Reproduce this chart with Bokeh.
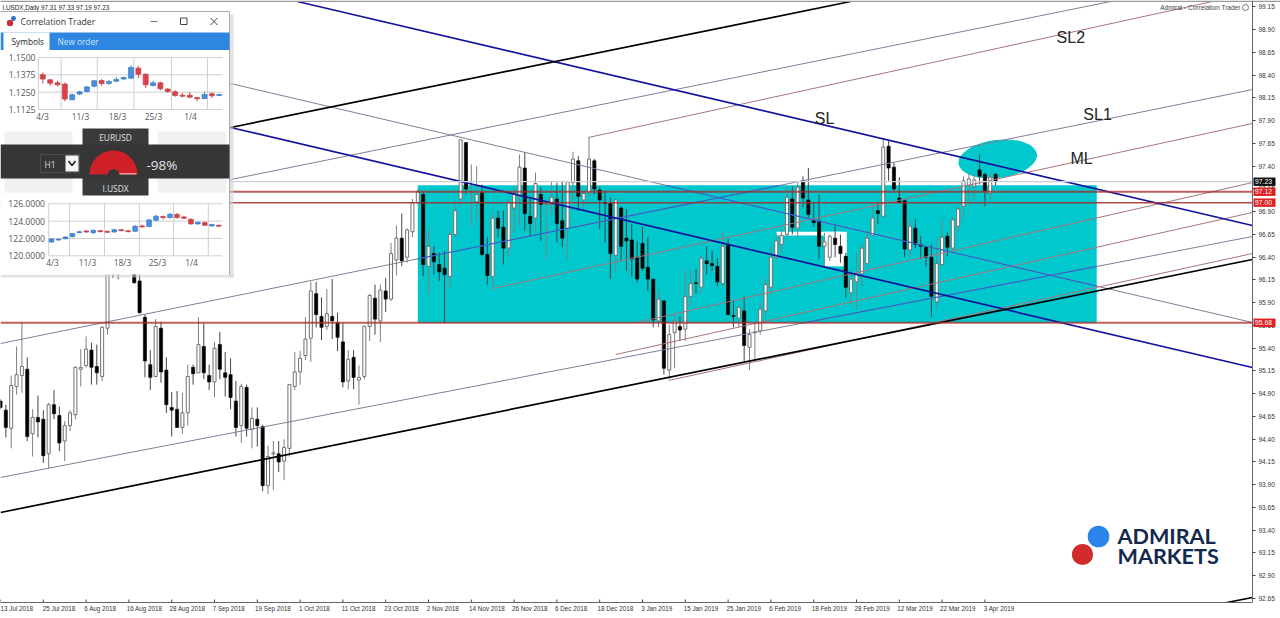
from bokeh.plotting import figure
from bokeh.models import Range1d, FixedTicker, LinearAxis
from bokeh.core.properties import value
from bokeh.embed import file_html
from bokeh.resources import INLINE
import numpy as np

# ---------------------------------------------------------------- data
OHLC = [
(94.82,94.84,94.73,94.75),(94.72,94.78,94.42,94.53),(94.52,95.10,94.30,94.99),(94.98,95.42,94.89,95.11),
(95.10,95.68,94.91,95.20),(95.17,95.30,94.38,94.43),(94.46,94.73,94.21,94.64),(94.64,94.88,94.42,94.59),
(94.62,94.72,94.14,94.22),(94.24,94.80,94.08,94.78),(94.78,94.94,94.62,94.68),(94.66,94.76,94.27,94.36),
(94.38,94.60,94.16,94.55),(94.55,94.72,94.49,94.69),(94.67,95.20,94.62,95.19),(95.17,95.39,94.98,95.19),
(95.21,95.53,95.19,95.39),(95.38,95.46,95.00,95.19),(95.20,95.44,95.00,95.13),(95.09,95.64,95.04,95.63),
(95.62,96.70,95.55,96.50),(97.00,97.20,96.17,96.50),(96.90,97.10,96.16,96.60),(96.90,97.20,96.40,96.70),
(96.80,97.10,96.35,96.60),(96.60,96.90,96.11,96.12),(96.14,96.30,95.78,95.79),(95.74,95.77,95.08,95.26),
(95.22,95.38,94.94,95.08),(95.09,95.72,95.08,95.64),(95.62,95.69,95.02,95.14),(95.16,95.30,94.69,94.78),
(94.75,94.92,94.43,94.72),(94.73,94.93,94.53,94.53),(94.53,94.91,94.46,94.69),(94.69,95.22,94.55,95.09),
(95.19,95.22,95.00,95.12),(95.13,95.74,95.13,95.44),(95.42,95.67,95.06,95.13),(95.10,95.22,94.94,95.03),
(95.03,95.47,94.86,95.40),(95.44,95.58,95.06,95.17),(95.13,95.36,94.87,95.08),(95.11,95.29,94.73,94.86),
(94.82,95.04,94.43,94.53),(94.55,95.01,94.36,94.98),(94.97,95.00,94.43,94.52),(94.51,94.75,94.30,94.63),
(94.62,94.75,94.32,94.55),(94.54,94.56,93.83,93.89),(93.89,94.33,93.80,94.21),(94.24,94.38,93.84,94.25),
(94.24,94.38,94.04,94.15),(94.16,94.40,93.95,94.31),(94.30,95.00,94.21,95.00),(94.98,95.36,94.94,95.14),
(95.14,95.37,95.00,95.29),(95.32,95.74,95.27,95.50),(95.51,96.13,95.25,96.03),(96.00,96.13,95.63,95.77),
(95.75,95.96,95.49,95.63),(95.64,96.05,95.60,95.78),(95.75,96.16,95.50,95.70),(95.68,95.79,95.37,95.52),
(95.47,95.68,94.97,95.03),(95.04,95.38,94.95,95.28),(95.30,95.38,94.95,95.08),(95.05,95.21,94.78,95.08),
(95.09,95.65,95.06,95.64),(95.64,96.00,95.48,95.98),(95.95,96.10,95.55,95.72),(95.70,96.10,95.47,96.04),
(96.03,96.17,95.80,95.94),(95.94,96.56,95.92,96.44),(96.37,96.75,96.20,96.61),(96.61,96.88,96.30,96.36),
(96.40,96.72,96.34,96.70),(96.68,97.04,96.62,97.00),(97.00,97.15,96.99,97.12),(97.09,97.12,96.19,96.32),
(96.30,96.71,95.99,96.52),(96.44,96.52,96.21,96.35),(96.32,96.45,96.14,96.24),(96.28,96.47,95.68,96.21),
(96.19,96.69,96.07,96.65),(96.65,97.02,96.62,96.91),(97.04,97.69,96.98,97.69),(97.66,97.66,97.09,97.15),
(97.11,97.42,96.74,97.12),(97.01,97.40,96.80,97.09),(97.11,97.20,96.41,96.43),(96.43,96.62,96.10,96.20),
(96.19,96.91,96.05,96.83),(96.83,96.91,96.62,96.72),(96.73,96.91,96.32,96.50),(96.50,97.04,96.41,97.00),
(96.94,97.17,96.67,97.10),(97.07,97.53,96.74,97.39),(97.38,97.55,96.69,96.88),(96.85,97.04,96.63,96.77),
(96.83,97.33,96.69,97.21),(97.09,97.17,96.58,96.98),(96.98,97.02,96.38,96.99),(96.98,97.24,96.87,97.06),
(97.04,97.22,96.56,96.77),(96.80,97.24,96.51,96.61),(96.72,97.24,96.36,97.23),(97.22,97.56,97.00,97.48),
(97.46,97.51,96.91,97.07),(97.03,97.13,96.91,97.10),(97.11,97.72,97.07,97.48),(97.46,97.48,97.09,97.15),
(97.14,97.17,96.71,97.03),(97.00,97.13,96.56,96.99),(96.99,97.06,96.16,96.44),(96.42,97.04,96.25,97.03),
(96.94,96.96,96.36,96.52),(96.61,96.93,96.25,96.58),(96.59,96.76,96.19,96.38),(96.40,96.58,96.12,96.16),
(96.55,96.73,96.25,96.28),(96.29,96.62,96.03,96.16),(96.16,96.16,95.63,95.71),(95.70,96.04,95.63,95.94),
(95.92,95.93,95.11,95.18),(95.16,95.66,95.06,95.55),(95.57,95.77,95.18,95.70),(95.64,95.75,95.48,95.60),
(95.61,96.27,95.48,95.97),(95.97,96.25,95.86,96.11),(96.12,96.27,96.00,96.11),(96.07,96.41,96.01,96.39),
(96.36,96.52,96.21,96.33),(96.33,96.47,96.25,96.31),(96.30,96.39,96.08,96.13),(96.11,96.69,96.08,96.52),
(96.54,96.60,95.76,95.77),(95.76,95.92,95.63,95.75),(95.73,95.86,95.63,95.85),(95.81,95.97,95.26,95.43),
(95.41,95.61,95.16,95.55),(95.57,95.68,95.28,95.58),(95.59,95.90,95.55,95.83),(95.81,96.18,95.74,96.10),
(96.07,96.51,95.99,96.40),(96.40,96.67,96.38,96.58),(96.54,96.71,96.45,96.64),(96.65,97.18,96.62,97.06),
(97.04,97.18,96.65,96.73),(96.72,97.22,96.62,97.17),(97.24,97.29,96.95,97.05),(97.03,97.38,96.82,96.87),
(96.81,97.00,96.74,96.78),(96.80,97.09,96.38,96.52),(96.52,96.67,96.29,96.57),(96.40,96.65,96.36,96.63),
(96.61,96.77,96.40,96.54),(96.52,96.65,96.34,96.44),(96.41,96.45,95.96,96.07),(96.01,96.25,95.88,96.16),
(96.13,96.45,95.83,96.21),(96.22,96.54,96.08,96.50),(96.33,96.69,96.29,96.61),(96.64,97.00,96.63,96.83),
(96.91,97.00,96.76,96.88),(96.85,97.70,96.84,97.61),(97.62,97.69,97.24,97.38),(97.39,97.44,97.13,97.15),
(97.05,97.28,97.00,97.00),(97.02,97.04,96.40,96.49),(96.48,96.80,96.41,96.74),(96.72,96.82,96.50,96.54),
(96.54,96.63,96.38,96.52),(96.51,96.52,96.30,96.40),(96.40,96.54,95.74,95.97),(95.91,96.62,95.85,96.33),
(96.32,96.81,96.32,96.62),(96.63,96.67,96.41,96.51),(96.50,96.84,96.46,96.81),(96.74,96.96,96.68,96.93),
(96.96,97.29,96.82,97.24),(97.19,97.33,97.01,97.26),(97.18,97.31,97.02,97.25),(97.36,97.53,97.20,97.29),
(97.31,97.33,96.96,97.13),(97.10,97.33,97.03,97.28),(97.31,97.33,97.19,97.23),
]
date_labels = ["13 Jul 2018","25 Jul 2018","6 Aug 2018","16 Aug 2018","28 Aug 2018","7 Sep 2018","19 Sep 2018",
 "1 Oct 2018","11 Oct 2018","23 Oct 2018","2 Nov 2018","14 Nov 2018","26 Nov 2018","6 Dec 2018","18 Dec 2018",
 "3 Jan 2019","15 Jan 2019","25 Jan 2019","6 Feb 2019","18 Feb 2019","28 Feb 2019","12 Mar 2019","22 Mar 2019","3 Apr 2019"]
price_ticks = [99.15,98.90,98.65,98.40,98.15,97.90,97.65,97.40,97.15,96.90,96.65,96.40,96.15,95.90,95.65,95.40,
 95.15,94.90,94.65,94.40,94.15,93.90,93.65,93.40,93.15,92.90,92.65]

# trend lines: (bar0, price0, bar1, price1)
black_lines = [(0,93.595,234,96.375),(43,97.826,158.9,99.21),(229.2,92.606,234,92.661)]
navy_lines  = [(55.5,99.21,234,96.749),(43,97.826,234,95.188)]
gray_lines  = [(43,98.309,234,95.683),(43,97.254,207.5,99.21),(0,95.452,234,98.243),(0,93.98,234,96.628)]
brown_lines = [(109.9,97.716,226.5,99.21),(92,96.056,234,97.87),(119,95.683,234,97.221),(115,95.331,234,96.892),(124.9,95.046,234,96.441)]
hlines = [(97.12,1.8,0.75),(97.00,1.5,0.85),(95.68,2.0,0.75)]
tags = [(97.23,"97.23","#111111"),(97.12,"97.12","#e02020"),(97.00,"97.00","#e02020"),(95.68,"95.68","#e02020")]
zone = (78,204.9,95.68,97.19)
white_rects = [(145,157,96.68,96.64),(154,158.2,96.68,96.30)]
labels = [("SL",152.2,97.93),("SL2",197.4,98.82),("SL1",202.4,97.97),("ML",200,97.49)]

eur = [(1.1375,1.1392,1.1312,1.1344),(1.1339,1.1344,1.1296,1.1315),(1.1317,1.1332,1.1291,1.1303),(1.1308,1.1320,1.1183,1.1200),
(1.1195,1.1240,1.1192,1.1231),(1.1236,1.1260,1.1228,1.1252),(1.1255,1.1296,1.1248,1.1288),(1.1293,1.1337,1.1284,1.1332),
(1.1334,1.1344,1.1296,1.1312),(1.1312,1.1337,1.1303,1.1327),(1.1329,1.1361,1.1322,1.1341),(1.1344,1.1361,1.1341,1.1356),
(1.1351,1.1447,1.1344,1.1428),(1.1423,1.1440,1.1351,1.1380),(1.1380,1.1385,1.1279,1.1303),(1.1298,1.1332,1.1291,1.1317),
(1.1317,1.1325,1.1264,1.1274),(1.1272,1.1279,1.1245,1.1255),(1.1252,1.1264,1.1216,1.1226),(1.1228,1.1245,1.1212,1.1221),
(1.1228,1.1250,1.1207,1.1214),(1.1211,1.1216,1.1187,1.1202),(1.1204,1.1255,1.1199,1.1233),(1.1238,1.1250,1.1207,1.1224),
(1.1226,1.1238,1.1221,1.1233)]
usdx = [(121.59,122.0,121.5,121.94),(121.82,122.0,121.75,121.9),(121.97,122.25,121.9,122.17),(122.21,122.65,122.15,122.56),
(122.67,122.85,122.6,122.79),(122.87,122.95,122.65,122.75),(122.67,123.05,122.5,122.94),(122.9,123.0,122.7,122.79),
(122.83,122.9,122.65,122.71),(122.75,123.1,122.65,123.02),(123.02,123.1,122.85,122.9),(122.9,123.0,122.7,122.79),
(122.83,123.55,122.75,123.41),(123.45,123.6,123.25,123.33),(123.37,124.25,123.3,124.14),(124.1,124.75,124.05,124.57),
(124.53,124.65,124.2,124.41),(124.41,124.95,124.3,124.8),(124.76,124.95,124.3,124.41),(124.49,124.6,124.25,124.34),
(124.22,124.3,123.6,123.68),(123.68,123.95,123.6,123.87),(123.83,123.95,123.45,123.52),(123.45,123.7,123.35,123.6),
(123.52,123.6,123.35,123.41)]
eur_ticks = [1.15,1.1375,1.125,1.1125]
usdx_ticks = [126.0,124.0,122.0,120.0]
eur_grid_bars = [-0.6,2.5,7.4,12.4,17.5,22.4]
usdx_grid_bars = [-0.4,2.6,7.6,12.6,17.5,22.5]
date_text = ["4/3","11/3","18/3","25/3","1/4"]

# ---------------------------------------------------------------- geometry
PXBAR = 5.35
CW, FH, AX = 1280, 602, 1252
def yp(y): return 99.2214 - y/91.0
AXB = AX/PXBAR

p = figure(width=1280, height=618, frame_width=CW, frame_height=FH, output_backend="svg", toolbar_location=None,
           x_range=Range1d(0, CW/PXBAR), y_range=Range1d(yp(FH), yp(0)), y_axis_location=None,
           min_border_left=0, min_border_right=0, min_border_top=0, min_border_bottom=16,
           outline_line_color=None, background_fill_color="white", border_fill_color="white")
p.grid.visible = False

# Bokeh centres tick labels on their tick; the reference starts each label at the tick,
# so the labels ride on an axis of their own and the tick marks are drawn as segments.
tick_bars = [8*k for k in range(len(date_labels))]
label_bars = [b + len(s)*2.85/2/PXBAR for b, s in zip(tick_bars, date_labels)]
xa = p.xaxis[0]
xa.bounds = (0, AXB)
xa.ticker = FixedTicker(ticks=label_bars)
xa.major_label_overrides = dict(zip(label_bars, date_labels))
xa.major_label_text_font = "Liberation Sans"; xa.major_label_text_font_size = "6.3px"; xa.major_label_text_color = "#333333"
xa.major_label_standoff = 2; xa.major_tick_in = 0; xa.major_tick_out = 0; xa.minor_tick_line_color = None
xa.major_tick_line_color = None; xa.axis_line_color = "#666666"
# tick marks hang just inside the frame's lower edge region; frame ends at the axis line
p.segment(tick_bars,[yp(FH-3)]*len(tick_bars),tick_bars,[yp(FH)]*len(tick_bars),line_color="#444444",line_width=1)

ya = LinearAxis(fixed_location=AXB, ticker=FixedTicker(ticks=price_ticks))
ya.major_label_overrides = {t: "%.2f" % t for t in price_ticks}
ya.major_label_text_font = "Liberation Sans"; ya.major_label_text_font_size = "6.5px"; ya.major_label_text_color = "#333333"
ya.major_label_standoff = 3; ya.major_tick_in = 0; ya.major_tick_out = 3; ya.minor_tick_line_color = None
ya.axis_line_color = "#666666"; ya.major_tick_line_color = "#444444"
p.add_layout(ya, "right")

# thin rule along the picture's lower edge
rule = LinearAxis(fixed_location=yp(616.8), ticker=FixedTicker(ticks=[]), major_tick_line_color=None, minor_tick_line_color=None,
                  major_label_text_color=None, axis_line_color="#8a8a8a", axis_line_width=1.2, bounds=(11, CW/PXBAR))
p.add_layout(rule, "below")

# pixel-like range for window chrome
p.extra_x_ranges["px"] = Range1d(0, CW)
p.extra_y_ranges["py"] = Range1d(FH, 0)

def txt(x, y, s, size, color="#222222", align="left", font="Liberation Sans", style="normal", **kw):
    p.text([x],[y],text=[s],text_font=value(font),text_font_size=value(f"{size}px"),text_color=color,text_align=align,
           text_baseline="middle",text_font_style=style,**kw)
def px_txt(x, y, s, size, color="#333333", align="left", font="Open Sans", style="normal"):
    txt(x,y,s,size,color,align,font,style,x_range_name="px",y_range_name="py")
def box(l,r,t,b,c,alpha=1.0):
    p.quad(left=[l],right=[r],top=[t],bottom=[b],fill_color=c,line_color=None,fill_alpha=alpha,x_range_name="px",y_range_name="py")

# zone, ellipse, white patches
bx0,bx1,by0,by1 = zone
p.quad(left=[bx0],right=[bx1],bottom=[by0],top=[by1],fill_color="#00c8cc",line_color=None)
p.ellipse([186.4],[97.48],width=[79],height=[38],angle=[0.12],width_units="screen",height_units="screen",fill_color="#00c8cc",line_color=None)
for l,r,t,b in white_rects:
    p.quad(left=[l],right=[r],top=[t],bottom=[b],fill_color="white",line_color=None)

# candles
arr = np.array(OHLC); o,h,l,c = arr.T; x = np.arange(len(o))
up = c >= o
p.segment(x[up],h[up],x[up],l[up],line_color="#808080",line_width=1)
p.segment(x[~up],h[~up],x[~up],l[~up],line_color="#444444",line_width=1)
p.vbar(x[up],0.56,np.minimum(o,c)[up],np.maximum(o,c)[up],fill_color="white",line_color="#707070",line_width=1)
p.vbar(x[~up],0.6,np.maximum(o,c)[~up],np.minimum(o,c)[~up],fill_color="black",line_color="black",line_width=0.6)

# trend lines
def seg(lst,color,w,alpha=1.0):
    p.segment([a[0] for a in lst],[a[1] for a in lst],[a[2] for a in lst],[a[3] for a in lst],line_color=color,line_width=w,line_alpha=alpha)
seg(gray_lines,"#807d98",1)
seg(brown_lines,"#a8747e",1)
inside = []
for a in gray_lines:
    xs = np.array([a[0],a[2]]); ys = np.array([a[1],a[3]])
    m = (ys[1]-ys[0])/(xs[1]-xs[0])
    xa0, xa1 = bx0, bx1
    y0, y1 = ys[0]+m*(xa0-xs[0]), ys[0]+m*(xa1-xs[0])
    if y0 > by1: xa0 = xs[0]+(by1-ys[0])/m; y0 = by1
    if y0 < by0: xa0 = xs[0]+(by0-ys[0])/m; y0 = by0
    if y1 > by1: xa1 = xs[0]+(by1-ys[0])/m; y1 = by1
    if y1 < by0: xa1 = xs[0]+(by0-ys[0])/m; y1 = by0
    if xa1 > xa0: inside.append((xa0,y0,xa1,y1))
seg(inside,"#2c5fd6",1)
seg(navy_lines,"#14149e",1.7)
seg(black_lines,"#000000",1.7)

# horizontal levels
p.segment([0],[97.23],[AXB],[97.23],line_color="#c8d2da",line_width=1.2)
for lv,w,al in hlines:
    p.segment([0],[lv],[AXB],[lv],line_color="#a52a2a",line_width=w,line_alpha=al)

# annotations on chart
for s,bx,py in labels:
    txt(bx,py,s,16,"#222222")

# header
box(0,CW,0,1.5,"#9a9a9a")
px_txt(2,6.5,"I.USDX,Daily  97.31 97.33 97.19 97.23",6.3,"#222222",font="Liberation Sans")
px_txt(1240,6.5,"Admiral - Correlation Trader",6.5,"#444444",align="right",font="Liberation Sans")
p.circle([1245],[7],radius=[3],fill_color=None,line_color="#555555",line_width=0.8,x_range_name="px",y_range_name="py")

# logo
p.circle([1098],[536],radius=[10.8],fill_color="#2a84ea",line_color=None,x_range_name="px",y_range_name="py")
p.circle([1082],[554],radius=[10.6],fill_color="#d12b2b",line_color=None,x_range_name="px",y_range_name="py")
px_txt(1117,535,"ADMIRAL",21.6,"#12284c",font="Lato",style="bold")
px_txt(1117,555,"MARKETS",21.6,"#12284c",font="Lato",style="bold")

# ---------------------------------------------------------------- window panel
box(229,233,14,277,"#d0d0d0",0.6); box(0,233,274,277,"#d0d0d0",0.6)
box(0,229,11,274,"#ffffff")
p.segment([0,229],[11,11],[229,229],[11,274],line_color="#aaaaaa",line_width=1,x_range_name="px",y_range_name="py")
p.circle([9.5],[22.5],radius=[3.2],fill_color="#c8303a",line_color=None,x_range_name="px",y_range_name="py")
p.circle([13],[18],radius=[2.4],fill_color="#2a6fc8",line_color=None,x_range_name="px",y_range_name="py")
px_txt(20,21,"Correlation Trader",8.7,"#333333")
p.segment([150],[21],[157],[21],line_color="#777777",line_width=1.2,x_range_name="px",y_range_name="py")
p.quad(left=[180],right=[186.5],top=[17.5],bottom=[24],fill_color=None,line_color="#444444",line_width=1,x_range_name="px",y_range_name="py")
p.segment([210,210],[17.5,24.5],[217,217],[24.5,17.5],line_color="#444444",line_width=1,x_range_name="px",y_range_name="py")
box(0,229,32,49.5,"#2f86e0")
box(3,49,32,50,"#ffffff")
px_txt(11,41,"Symbols",8.3,"#222222")
px_txt(57,41,"New order",8.3,"#cfe4fb")

def mini(name, data, a, b, y_top, price_top, px_per_unit, ticks, fmt, label_x, plot_l, plot_r, plot_b, grid_bars, dlx, dly, upc, dnc, bw):
    p.extra_x_ranges[name+"x"] = Range1d((0-a)/b,(CW-a)/b)
    p.extra_y_ranges[name+"y"] = Range1d(price_top-(FH-y_top)/px_per_unit, price_top+y_top/px_per_unit)
    kw = dict(x_range_name=name+"x", y_range_name=name+"y")
    g = dict(line_color="#cfcfcf", line_width=1)
    lo = price_top-(plot_b-y_top)/px_per_unit
    p.segment([(plot_l-a)/b]*len(ticks),ticks,[(plot_r-a)/b]*len(ticks),ticks,**g,**kw)
    p.segment(grid_bars,[price_top]*len(grid_bars),grid_bars,[lo]*len(grid_bars),**g,**kw)
    for t in ticks:
        p.text([(label_x-a)/b],[t],text=[fmt%t],text_font=value("Open Sans"),text_font_size=value("8.6px"),text_color="#555555",
               text_align="right",text_baseline="middle",**kw)
    d = np.array(data); o,h,l,c = d.T; x = np.arange(len(o)); u = c>=o
    p.segment(x[u],h[u],x[u],l[u],line_color=upc,line_width=1,**kw)
    p.segment(x[~u],h[~u],x[~u],l[~u],line_color=dnc,line_width=1,**kw)
    p.vbar(x[u],bw,o[u],c[u],fill_color=upc,line_color="#2b6fb5",line_width=0.6,**kw)
    p.vbar(x[~u],bw,c[~u],o[~u],fill_color=dnc,line_color="#b83a45",line_width=0.6,**kw)
    for lx,s in zip(dlx,date_text):
        px_txt(lx,dly,s,8.4,"#555555",align="center")

mini("e",eur,42.3,7.35,57,1.15,1386.0,eur_ticks,"%.4f",35,38,222,108.7,eur_grid_bars,[42,80,117,153,190],116,"#4a90e2","#dc3f48",0.68)

# middle band
box(4,72,131,192,"#f1f1f1"); box(157,226,131,192,"#f1f1f1")
box(82,148,128,195,"#3a3a3a")
box(0,229,144,178,"#363636")
px_txt(115,136.5,"EURUSD",8.4,"#e0e0e0",align="center")
px_txt(115,187.5,"I.USDX",8.4,"#e0e0e0",align="center")
p.quad(left=[40],right=[79],top=[154],bottom=[172],fill_color=None,line_color="#4c4c4c",line_width=1,x_range_name="px",y_range_name="py")
px_txt(44,164,"H1",8.4,"#dddddd")
box(65,78,155,171,"#f4f4f4")
p.multi_line([[68,71.5,75]],[[160.5,165,160.5]],line_color="#222222",line_width=1.6,x_range_name="px",y_range_name="py")
p.annular_wedge([113],[174],inner_radius=[5.5],outer_radius=[24],start_angle=[0],end_angle=[np.pi],inner_radius_units="screen",outer_radius_units="screen",
                fill_color="#cf1f28",line_color=None,x_range_name="px",y_range_name="py")
box(119,136,172.5,174,"#e8a0a0")
px_txt(146,164.5,"-98%",13.5,"#e2e2e2")

mini("u",usdx,51,6.97,203.3,126.0,8.67,usdx_ticks,"%.4f",44.5,48,222,255,usdx_grid_bars,[52,87,122,157,191],262,"#4a90e2","#dc3f48",0.68)

# price tags on the axis
for pv,s,col in tags:
    p.quad(left=[1253],right=[1275],top=[pv+4.2/91],bottom=[pv-4.2/91],fill_color=col,line_color=None,x_range_name="px",level="overlay")
    p.text([1254.5],[pv],text=[s],text_font=value("Liberation Sans"),text_font_size=value("6.8px"),text_color="white",
           text_baseline="middle",x_range_name="px",level="overlay")

open("out.html","w").write(file_html(p, INLINE))
